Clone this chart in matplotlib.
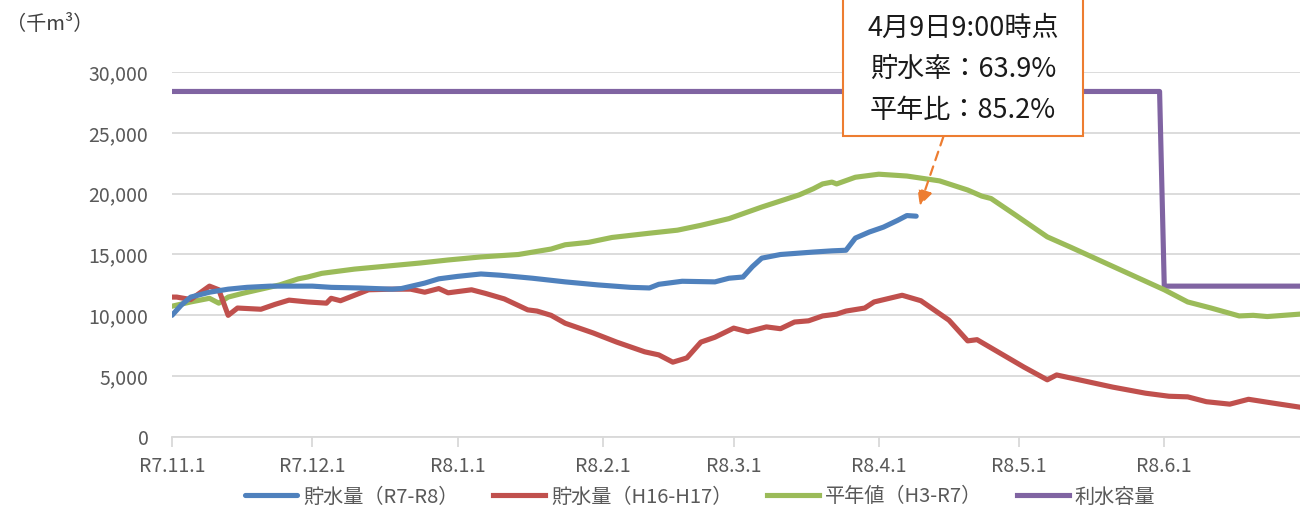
import matplotlib
matplotlib.use("Agg")
import matplotlib.pyplot as plt
from matplotlib.patches import Rectangle
from matplotlib.ticker import FuncFormatter
import numpy as np

plt.rcParams['font.family'] = ['Noto Sans CJK JP', 'DejaVu Sans']

# ---- data (千m3) ----
blue_dates = ["2025-11-01","2025-11-03","2025-11-05","2025-11-09","2025-11-13","2025-11-17",
              "2025-11-22","2025-11-27","2025-12-01","2025-12-05","2025-12-11","2025-12-18",
              "2025-12-20","2025-12-25","2025-12-28","2026-01-01","2026-01-06","2026-01-10",
              "2026-01-17","2026-01-24","2026-01-31","2026-02-07","2026-02-11","2026-02-13",
              "2026-02-18","2026-02-25","2026-02-28","2026-03-03","2026-03-05","2026-03-07",
              "2026-03-11","2026-03-18","2026-03-22","2026-03-25","2026-03-27","2026-03-30",
              "2026-04-02","2026-04-05","2026-04-07","2026-04-09"]
blue_vals = [10000,10850,11500,11900,12150,12300,12400,12400,12400,12300,12250,12150,
             12200,12650,13000,13200,13400,13300,13050,12750,12500,12300,12250,12550,
             12800,12750,13050,13150,14000,14700,15000,15200,15300,15350,16350,16850,
             17250,17800,18200,18150]

red_dates = ["2025-11-01","2025-11-02","2025-11-05","2025-11-07","2025-11-09","2025-11-11",
             "2025-11-13","2025-11-15","2025-11-20","2025-11-23","2025-11-26","2025-11-30",
             "2025-12-04","2025-12-05","2025-12-07","2025-12-11","2025-12-13","2025-12-18",
             "2025-12-22","2025-12-25","2025-12-28","2025-12-30","2026-01-04","2026-01-07",
             "2026-01-11","2026-01-16","2026-01-18","2026-01-21","2026-01-24","2026-01-30",
             "2026-02-04","2026-02-10","2026-02-13","2026-02-16","2026-02-19","2026-02-22",
             "2026-02-25","2026-03-01","2026-03-04","2026-03-08","2026-03-11","2026-03-14",
             "2026-03-17","2026-03-20","2026-03-23","2026-03-25","2026-03-29","2026-03-31",
             "2026-04-06","2026-04-10","2026-04-16","2026-04-20","2026-04-22","2026-04-26",
             "2026-04-28","2026-05-02","2026-05-07","2026-05-09","2026-05-12","2026-05-21",
             "2026-05-28","2026-06-02","2026-06-06","2026-06-10","2026-06-15","2026-06-19",
             "2026-06-24","2026-06-30"]
red_vals = [11500,11500,11300,11850,12400,12100,10000,10600,10500,10900,11250,11100,
            11000,11400,11200,11800,12100,12150,12150,11900,12200,11850,12100,11800,
            11350,10450,10350,10000,9350,8550,7800,7000,6750,6150,6500,7800,
            8200,8950,8650,9050,8900,9450,9550,9950,10100,10350,10600,11100,
            11650,11200,9600,7900,8000,7100,6650,5750,4700,5100,4850,4100,
            3600,3350,3300,2900,2700,3100,2800,2450]

green_dates = ["2025-11-01","2025-11-05","2025-11-09","2025-11-11","2025-11-13","2025-11-16",
               "2025-11-20","2025-11-24","2025-11-28","2025-11-30","2025-12-03","2025-12-10",
               "2025-12-17","2025-12-24","2025-12-30","2026-01-06","2026-01-14","2026-01-21",
               "2026-01-24","2026-01-29","2026-02-03","2026-02-11","2026-02-17","2026-02-22",
               "2026-02-28","2026-03-07","2026-03-15","2026-03-18","2026-03-20","2026-03-22",
               "2026-03-23","2026-03-27","2026-04-01","2026-04-07","2026-04-14","2026-04-20",
               "2026-04-23","2026-04-25","2026-04-30","2026-05-07","2026-05-12",
               "2026-05-18","2026-05-24","2026-05-28","2026-06-01","2026-06-06","2026-06-11",
               "2026-06-17","2026-06-20","2026-06-23","2026-06-30"]
green_vals = [10750,11100,11400,11000,11500,11800,12150,12500,13000,13150,13450,13800,
              14050,14300,14550,14800,15000,15450,15800,16000,16400,16750,17000,17400,
              17950,18900,19900,20400,20800,20950,20800,21350,21600,21450,21050,20300,
              19800,19600,18300,16450,15600,14550,13500,12800,12100,11100,10600,
              9950,10000,9900,10100]

purple_dates = ["2025-11-01","2026-05-31","2026-06-01","2026-06-30"]
purple_vals = [28400,28400,12400,12400]

series_labels = ["貯水量（R7-R8）", "貯水量（H16-H17）", "平年値（H3-R7）", "利水容量"]
series_colors = ["#4F81BD", "#C0504D", "#9BBB59", "#8064A2"]

tick_dates = ["2025-11-01","2025-12-01","2026-01-01","2026-02-01","2026-03-01",
              "2026-04-01","2026-05-01","2026-06-01"]
tick_labels = ["R7.11.1","R7.12.1","R8.1.1","R8.2.1","R8.3.1","R8.4.1","R8.5.1","R8.6.1"]

note_lines = ["4月9日9:00時点", "貯水率：63.9%", "平年比：85.2%"]
unit_label = "（千m³）"

def d(lst):
    return np.array(lst, dtype="datetime64[D]")

W, H = 1300, 509
fig = plt.figure(figsize=(W/100, H/100), dpi=100)
ax = fig.add_axes([172/W, (H-437)/H, (1300-172)/W, (437-72)/H])

lw = 3.7
ax.plot(d(purple_dates), purple_vals, color=series_colors[3], lw=lw, label=series_labels[3], zorder=3, solid_joinstyle='round')
ax.plot(d(green_dates), green_vals, color=series_colors[2], lw=lw, label=series_labels[2], zorder=4, solid_joinstyle='round')
ax.plot(d(red_dates), red_vals, color=series_colors[1], lw=lw, label=series_labels[1], zorder=5, solid_joinstyle='round')
ax.plot(d(blue_dates), blue_vals, color=series_colors[0], lw=lw, label=series_labels[0], zorder=6,
        solid_capstyle='round', solid_joinstyle='round')

ax.set_xlim(d(["2025-11-01"])[0], d(["2026-06-30"])[0])
ax.set_ylim(0, 30000)
ax.set_yticks(np.arange(0, 30001, 5000))
ax.yaxis.set_major_formatter(FuncFormatter(lambda v, p: f"{int(v):,}"))
ax.set_xticks(d(tick_dates))
ax.set_xticklabels(tick_labels)

ax.grid(axis='y', color='#D9D9D9', lw=1.3)
ax.set_axisbelow(True)
for s in ['top', 'right', 'left']:
    ax.spines[s].set_visible(False)
ax.spines['bottom'].set_color('#D9D9D9')
ax.spines['bottom'].set_linewidth(1.3)
ax.tick_params(axis='y', length=0, labelsize=14, labelcolor='#595959', pad=17)
ax.tick_params(axis='x', length=7, width=1.3, color='#D9D9D9', labelsize=14, labelcolor='#595959', pad=7)

handles, labels = ax.get_legend_handles_labels()
order = [3, 2, 1, 0]
leg = fig.legend([handles[i] for i in order], [labels[i] for i in order],
                 loc='center', bbox_to_anchor=(700/W, (H-497)/H), ncol=4, frameon=False,
                 fontsize=14.5, handlelength=2.6, handletextpad=0.3, columnspacing=1.7,
                 labelcolor='#595959')

fig.text(6/W, (H-25)/H, unit_label, fontsize=14.5, color='#404040', va='center', ha='left')

# annotation box
box = Rectangle((843/W, (H-136)/H), (1083-843)/W, 200/H, transform=fig.transFigure,
                facecolor='white', edgecolor='#ED7D31', lw=1.5, zorder=10)
fig.add_artist(box)
for i, t in enumerate(note_lines):
    fig.text(963/W, (H-(28+41*i))/H, t, fontsize=19.5, color='#1a1a1a', ha='center', va='center', zorder=11)

ax.annotate('', xy=(d(blue_dates)[-1], blue_vals[-1]), xycoords='data',
            xytext=(19.5, 57), textcoords='offset points',
            arrowprops=dict(arrowstyle='-|>,head_length=0.9,head_width=0.45', color='#ED7D31',
                            lw=1.6, linestyle=(0, (4, 3)), shrinkA=0, shrinkB=8),
            zorder=9, annotation_clip=False)

fig.savefig("out.png", dpi=100)
